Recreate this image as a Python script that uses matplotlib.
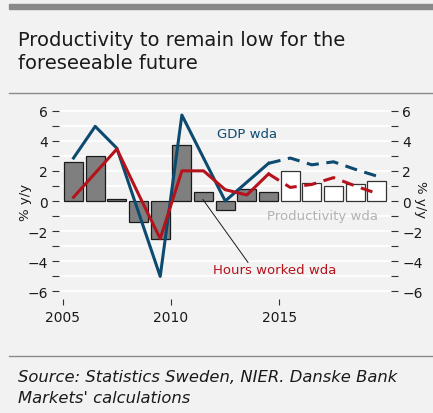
import matplotlib
matplotlib.use("Agg")
import matplotlib.pyplot as plt
import numpy as np

years = list(range(2005, 2020))
productivity = [2.6, 3.0, 0.1, -1.4, -2.5, 3.7, 0.6, -0.6, 0.8, 0.6, 2.0, 1.2, 1.0, 1.1, 1.3]
gdp = [2.85, 4.95, 3.5, -0.75, -5.0, 5.7, 2.85, 0.0, 1.25, 2.5, 2.85, 2.4, 2.6, 2.1, 1.65]
hours = [0.25, 1.85, 3.45, 0.45, -2.5, 2.0, 2.0, 0.75, 0.4, 1.8, 0.9, 1.1, 1.55, 1.0, 0.5]
n_actual = 10  # 2005-2014 outcome, 2015-2019 forecast

bg = "#f2f2f2"
blue = "#0d4a70"
red = "#b5121b"

fig = plt.figure(figsize=(4.33, 4.14), dpi=100, facecolor=bg)
ax = fig.add_axes([59 / 433, 114 / 414, 332 / 433, 196 / 414], facecolor=bg)

pos = np.array(years) + 0.5

ax.bar(pos[:n_actual], productivity[:n_actual], 0.88, color="#7f7f7f",
       edgecolor="#1a1a1a", linewidth=0.9, zorder=2)
ax.bar(pos[n_actual:], productivity[n_actual:], 0.88, color="white",
       edgecolor="#333333", linewidth=0.9, zorder=2)

ax.plot(pos[:n_actual], gdp[:n_actual], color=blue, lw=2.2, zorder=3)
ax.plot(pos[n_actual - 1:], gdp[n_actual - 1:], color=blue, lw=2.2,
        dashes=(4, 2.5), zorder=3)
ax.plot(pos[:n_actual], hours[:n_actual], color=red, lw=2.2, zorder=4)
ax.plot(pos[n_actual - 1:], hours[n_actual - 1:], color=red, lw=2.2,
        dashes=(4, 2.5), zorder=4)

ax.set_xlim(2004.83, 2020.15)
ax.set_ylim(-6.5, 6.5)

for v in range(-6, 7):
    ax.axhline(v, color="white", lw=1.3, zorder=1)

for s in ax.spines.values():
    s.set_visible(False)

ax.set_xticks([2005, 2010, 2015])
ax.tick_params(axis="x", length=4, width=0.8, color="#333333", pad=4,
               labelsize=10, labelcolor="#1a1a1a")
ax.set_yticks(range(-6, 7, 2))
ax.set_yticks(range(-5, 7, 2), minor=True)
ax.tick_params(axis="y", which="both", length=5, width=0.8, color="#333333",
               left=True, right=True, labelleft=True, labelright=True,
               labelsize=10, labelcolor="#1a1a1a", pad=3)

# axis titles on both sides
fig.text(25 / 433, 1 - 202 / 414, "% y/y", fontsize=9.5, color="#1a1a1a",
         rotation=90, ha="center", va="center")
fig.text(421 / 433, 1 - 200 / 414, "% y/y", fontsize=9.5, color="#1a1a1a",
         rotation=270, ha="center", va="center")

ax.text(2012.12, 4.5, "GDP wda", color=blue, fontsize=9.5, va="center")
ax.text(2014.43, -0.93, "Productivity wda", color="#b3b3b3", fontsize=9.5, va="center")
ax.text(2011.94, -4.53, "Hours worked wda", color=red, fontsize=9.5, va="center")
ax.plot([2011.47, 2013.55], [0.1, -4.07], color="#1a1a1a", lw=0.7, zorder=5)

# frame: top band, separators, title and source
fig.patches.append(plt.Rectangle((9 / 433, 1 - 9.5 / 414), 1, 4.5 / 414,
                                 transform=fig.transFigure, color="#8a8a8a"))
fig.lines.append(plt.Line2D([9 / 433, 1], [1 - 94 / 414] * 2,
                            transform=fig.transFigure, color="#8a8a8a", lw=1))
fig.lines.append(plt.Line2D([9 / 433, 1], [1 - 357 / 414] * 2,
                            transform=fig.transFigure, color="#8a8a8a", lw=1))
fig.text(18 / 433, 1 - 52 / 414, "Productivity to remain low for the\nforeseeable future",
         fontsize=14, color="#1a1a1a", va="center", linespacing=1.3)
fig.text(18 / 433, 1 - 388 / 414, "Source: Statistics Sweden, NIER. Danske Bank\nMarkets' calculations",
         fontsize=11.8, style="italic", color="#1a1a1a", va="center", linespacing=1.45)

fig.savefig("out.png", dpi=100, facecolor=bg)
